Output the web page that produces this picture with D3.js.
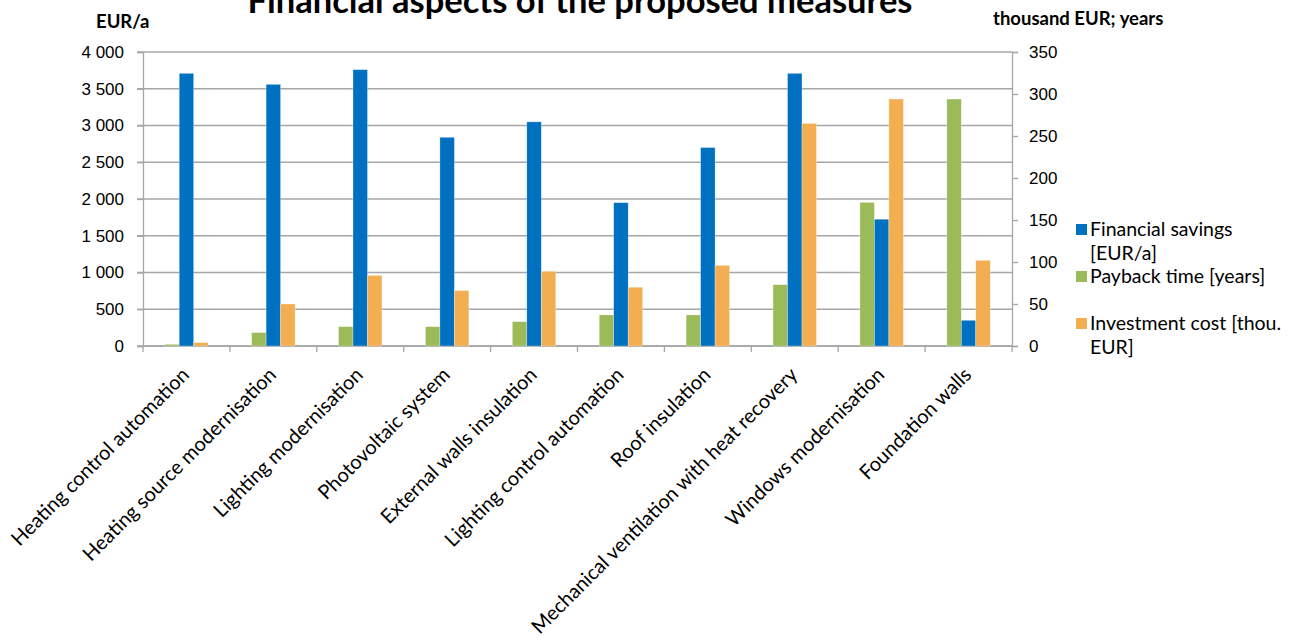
<!DOCTYPE html>
<html><head><meta charset="utf-8">
<script src="https://cdn.jsdelivr.net/npm/d3@7"></script>
<style>
body{margin:0;background:#fff;}
svg{display:block;font-family:Lato,"Open Sans",sans-serif;}
</style></head>
<body><svg id="c" width="1297" height="644"></svg>
<script>
const categories = ["Heating control automation","Heating source modernisation","Lighting modernisation","Photovoltaic system","External walls insulation","Lighting control automation","Roof insulation","Mechanical ventilation with heat recovery","Windows modernisation","Foundation walls"];
const savings = [3710,3560,3760,2840,3050,1950,2700,3710,1725,350];
const payback = [2,16,23,23,29,37,37,73,171,294];
const investment = [4,50,84,66,89,70,96,265,294,102];
const leftTicks = [0,500,1000,1500,2000,2500,3000,3500,4000];
const rightTicks = [0,50,100,150,200,250,300,350];
const legendItems = [["Financial savings","[EUR/a]"],["Payback time [years]"],["Investment cost [thou.","EUR]"]];

const colors = {savings:"#0070C0", payback:"#9BBB59", investment:"#F2AE50"};
const svg = d3.select("#c");
const L=143, R=1012, T=52, B=346;
const grid="#A6A6A6";

const x = d3.scaleBand().domain(categories).range([L,R]).paddingInner(0).paddingOuter(0);
const yL = d3.scaleLinear().domain([0,4000]).range([B,T]);
const yR = d3.scaleLinear().domain([0,350]).range([B,T]);
const bw = x.bandwidth();
const barW = bw/6;
const sub = d3.scaleBand().domain(["payback","savings","investment"]).range([bw/2-1.5*barW, bw/2+1.5*barW]);

// gridlines
svg.append("g").selectAll("line").data(leftTicks).join("line")
  .attr("x1",L-6).attr("x2",R).attr("y1",d=>yL(d)).attr("y2",d=>yL(d))
  .attr("stroke",grid).attr("stroke-width",1.3);

// left axis
const gL = svg.append("g").attr("transform",`translate(${L},0)`)
  .call(d3.axisLeft(yL).tickValues(leftTicks).tickSize(6).tickPadding(13)
    .tickFormat(d=>d3.format(",")(d).replace(/,/g," ")));
gL.select(".domain").attr("stroke",grid).attr("stroke-width",1.3);
gL.selectAll(".tick line").attr("stroke",grid).attr("stroke-width",1.3);
gL.selectAll("text").attr("font-size",17).attr("fill","#000");

// right axis
const gR = svg.append("g").attr("transform",`translate(${R},0)`)
  .call(d3.axisRight(yR).tickValues(rightTicks).tickSize(6).tickPadding(11));
gR.select(".domain").attr("stroke",grid).attr("stroke-width",1.3);
gR.selectAll(".tick line").attr("stroke",grid).attr("stroke-width",1.3);
gR.selectAll("text").attr("font-size",17).attr("fill","#000");

// x ticks at band boundaries
const bounds = categories.map(c=>x(c)).concat([R]);
svg.append("g").selectAll("line").data(bounds).join("line")
  .attr("x1",d=>d).attr("x2",d=>d).attr("y1",B).attr("y2",B+6)
  .attr("stroke",grid).attr("stroke-width",1.3);
svg.append("line").attr("x1",L).attr("x2",R).attr("y1",B).attr("y2",B).attr("stroke",grid).attr("stroke-width",1.3);

// bars
const series = [
  {key:"payback", vals:payback, scale:yR},
  {key:"savings", vals:savings, scale:yL},
  {key:"investment", vals:investment, scale:yR}
];
series.forEach(s=>{
  svg.append("g").selectAll("rect").data(categories).join("rect")
    .attr("x",(c)=>x(c)+sub(s.key))
    .attr("width",sub.bandwidth())
    .attr("y",(c,i)=>s.scale(s.vals[i]))
    .attr("height",(c,i)=>B-s.scale(s.vals[i]))
    .attr("fill",colors[s.key]).attr("stroke","#fff").attr("stroke-opacity",0.5).attr("stroke-width",0.6);
});

// x labels
svg.append("g").selectAll("text").data(categories).join("text")
  .attr("transform",c=>`translate(${x(c)+bw/2+4},${B+30}) rotate(-45)`)
  .attr("text-anchor","end").attr("font-size",20).attr("fill","#000").text(c=>c);

// title
svg.append("text").attr("x",580).attr("y",13).attr("text-anchor","middle")
  .attr("font-size",34.5).attr("font-weight","bold").attr("fill","#000")
  .text("Financial aspects of the proposed measures");

svg.append("text").attr("x",96).attr("y",28).attr("font-size",18.5).attr("font-weight","bold").text("EUR/a");
svg.append("text").attr("x",993).attr("y",25).attr("font-size",18.5).attr("font-weight","bold").text("thousand EUR; years");

// legend
const legKeys=["savings","payback","investment"];
const legY=[230,277,324];
legendItems.forEach((lines,i)=>{
  svg.append("rect").attr("x",1076).attr("y",legY[i]-6).attr("width",11).attr("height",11).attr("fill",colors[legKeys[i]]);
  lines.forEach((t,j)=>{
    svg.append("text").attr("x",1090).attr("y",legY[i]+6+j*24).attr("font-size",19.5).attr("fill","#000").text(t);
  });
});
</script></body></html>
